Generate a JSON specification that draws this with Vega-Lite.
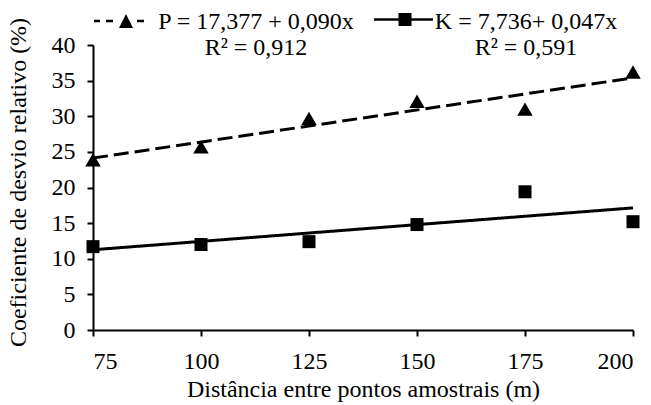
{
  "$schema": "https://vega.github.io/schema/vega-lite/v6.json",
  "width": 540,
  "height": 285,
  "autosize": {"type": "none"},
  "padding": {"left": 93, "top": 45, "right": 18, "bottom": 75},
  "background": "white",
  "config": {
    "view": {"stroke": null},
    "axis": {
      "domainColor": "black",
      "tickColor": "black",
      "labelColor": "black",
      "titleColor": "black",
      "domainWidth": 2,
      "tickWidth": 2,
      "tickSize": 6,
      "grid": false,
      "labelFontSize": 24,
      "titleFontSize": 24,
      "titleFontWeight": "normal",
      "labelFont": "Times New Roman",
      "titleFont": "Times New Roman",
      "labelOverlap": false
    },
    "legend": {"labelFont": "Times New Roman", "offset": 0}
  },
  "datasets": {
    "pontos": [
      {"dist": 75, "serie": "P", "cdr": 23.9},
      {"dist": 100, "serie": "P", "cdr": 25.7},
      {"dist": 125, "serie": "P", "cdr": 29.7},
      {"dist": 150, "serie": "P", "cdr": 32.1},
      {"dist": 175, "serie": "P", "cdr": 31.0},
      {"dist": 200, "serie": "P", "cdr": 36.2},
      {"dist": 75, "serie": "K", "cdr": 11.7},
      {"dist": 100, "serie": "K", "cdr": 12.0},
      {"dist": 125, "serie": "K", "cdr": 12.4},
      {"dist": 150, "serie": "K", "cdr": 14.8},
      {"dist": 175, "serie": "K", "cdr": 19.4},
      {"dist": 200, "serie": "K", "cdr": 15.2}
    ],
    "tendencia": [
      {"dist": 75, "serie": "P", "cdr": 24.13},
      {"dist": 200, "serie": "P", "cdr": 35.38},
      {"dist": 75, "serie": "K", "cdr": 11.26},
      {"dist": 200, "serie": "K", "cdr": 17.14}
    ]
  },
  "encoding": {
    "x": {
      "field": "dist",
      "type": "quantitative",
      "scale": {"domain": [75, 200], "nice": false},
      "axis": {"values": [75, 100, 125, 150, 175, 200], "title": "Distância entre pontos amostrais (m)", "labelPadding": 13}
    },
    "y": {
      "field": "cdr",
      "type": "quantitative",
      "scale": {"domain": [0, 40], "nice": false},
      "axis": {"values": [0, 5, 10, 15, 20, 25, 30, 35, 40], "title": "Coeficiente de desvio relativo (%)", "labelPadding": 12, "titleX": -68, "titleY": 137, "titleAngle": 270, "titleBaseline": "alphabetic", "titleAlign": "center"}
    }
  },
  "layer": [
    {
      "data": {"name": "tendencia"},
      "mark": {"type": "line", "color": "black", "strokeWidth": 3},
      "encoding": {
        "strokeDash": {
          "field": "serie",
          "type": "nominal",
          "scale": {"domain": ["P", "K"], "range": [[15, 6], [1, 0]]},
          "legend": {
            "orient": "none",
            "legendX": 0,
            "legendY": -28,
            "direction": "horizontal",
            "title": null,
            "padding": 0,
            "offset": 0,
            "symbolSize": 4,
            "symbolStrokeWidth": 0,
            "symbolOffset": 21,
            "symbolFillColor": "black",
            "symbolStrokeColor": "transparent",
            "symbolType": {"expr": "datum.value === 'P' ? 'M-32,-9.2H-26V-6.8H-32Z M-20,-9.2H-13V-6.8H-20Z M11,-9.2H18V-6.8H11Z M-7,-1L7,-1L0,-15Z' : 'M-22,-10.75H37V-8.25H-22Z M2.5,-16H15.5V-3H2.5Z'"},
            "labelOffset": 118,
            "labelFontSize": 24,
            "labelFont": "Times New Roman",
            "labelColor": "black",
            "labelAlign": "center",
            "labelBaseline": "alphabetic",
            "labelLimit": 0,
            "columnPadding": 8,
            "labelExpr": "datum.value === 'P' ? ['P = 17,377 + 0,090x', 'R\u00b2 = 0,912'] : ['K = 7,736+ 0,047x', 'R\u00b2 = 0,591']"
          }
        }
      }
    },
    {
      "data": {"name": "pontos"},
      "transform": [{"filter": "datum.serie === 'P'"}],
      "mark": {"type": "point", "filled": true, "color": "black", "opacity": 1},
      "encoding": {"shape": {"value": "triangle-up"}, "size": {"value": 240}}
    },
    {
      "data": {"name": "pontos"},
      "transform": [{"filter": "datum.serie === 'K'"}],
      "mark": {"type": "point", "filled": true, "color": "black", "opacity": 1},
      "encoding": {"shape": {"value": "square"}, "size": {"value": 169}}
    }
  ]
}
